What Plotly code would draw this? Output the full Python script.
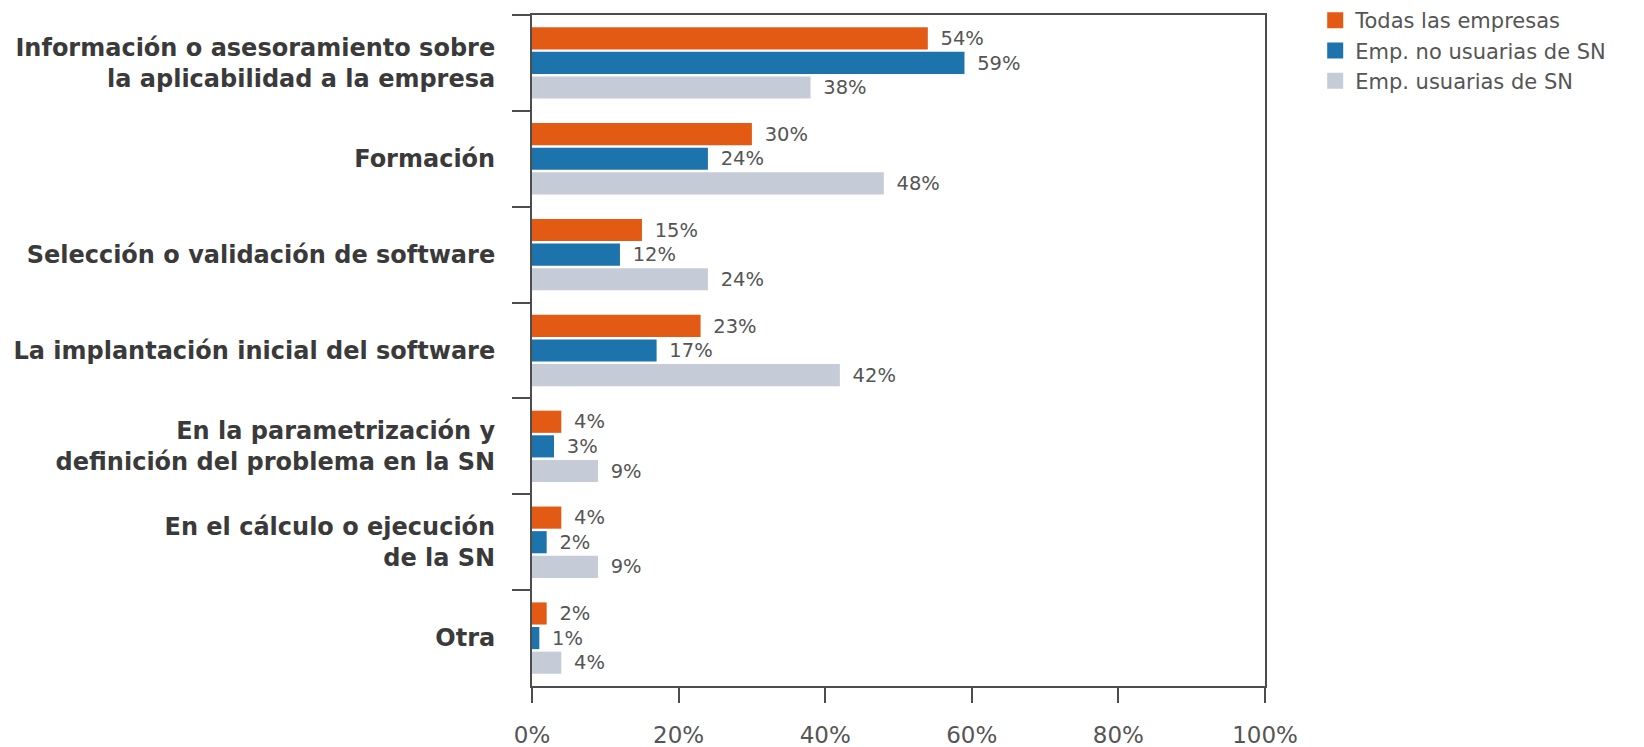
import plotly.graph_objects as go

# Categories (top to bottom) and the share of companies per group, in percent
categories = [
    "Información o asesoramiento sobre<br>la aplicabilidad a la empresa",
    "Formación",
    "Selección o validación de software",
    "La implantación inicial del software",
    "En la parametrización y<br>definición del problema en la SN",
    "En el cálculo o ejecución<br>de la SN",
    "Otra",
]
todas = [54, 30, 15, 23, 4, 4, 2]
no_usuarias = [59, 24, 12, 17, 3, 2, 1]
usuarias = [38, 48, 24, 42, 9, 9, 4]

series_names = ["Todas las empresas", "Emp. no usuarias de SN", "Emp. usuarias de SN"]
series_values = [todas, no_usuarias, usuarias]
series_colors = ["#E25A14", "#1D74AD", "#C5CCD8"]

x_ticks = [0, 20, 40, 60, 80, 100]
x_tick_labels = ["0%", "20%", "40%", "60%", "80%", "100%"]

FONT = "DejaVu Sans, Verdana, sans-serif"
AXIS_COLOR = "#4d4d4d"

fig = go.Figure()
for name, vals, color in zip(series_names, series_values, series_colors):
    fig.add_trace(go.Bar(
        y=categories,
        x=vals,
        name=name,
        orientation="h",
        marker=dict(color=color, line=dict(width=0)),
        text=[f"\u2002{v}%" for v in vals],
        textposition="outside",
        textfont=dict(family=FONT, size=22, color="#555555"),
        cliponaxis=False,
        showlegend=False,
    ))

# Legend entries with larger square swatches
for name, color in zip(series_names, series_colors):
    fig.add_trace(go.Scatter(
        x=[None], y=[None],
        mode="markers",
        name=name,
        marker=dict(symbol="square", size=18, color=color),
        showlegend=True,
    ))

fig.update_layout(
    width=1644,
    height=747,
    margin=dict(l=532, r=379, t=15, b=61),
    paper_bgcolor="white",
    plot_bgcolor="white",
    barmode="group",
    bargap=0.23,
    bargroupgap=0.1,
    showlegend=True,
    legend=dict(
        xref="container", yref="container",
        x=0.80, y=1.0, xanchor="left", yanchor="top",
        font=dict(family=FONT, size=21, color="#555555"),
        traceorder="normal",
        itemsizing="trace",
        bgcolor="rgba(0,0,0,0)",
    ),
    font=dict(family=FONT),
)

fig.update_xaxes(
    range=[0, 100],
    tickvals=x_ticks,
    ticktext=x_tick_labels,
    ticks="outside",
    ticklen=15,
    tickwidth=2,
    tickcolor=AXIS_COLOR,
    ticklabelstandoff=12,
    tickfont=dict(family=FONT, size=23, color="#555555"),
    showgrid=False,
    zeroline=False,
    showline=True,
    linecolor=AXIS_COLOR,
    linewidth=2,
    mirror=True,
    automargin=False,
)

fig.update_yaxes(
    autorange="reversed",
    tickson="boundaries",
    ticks="outside",
    ticklen=18,
    tickwidth=2,
    tickcolor=AXIS_COLOR,
    ticklabelstandoff=30,
    tickfont=dict(family=FONT, size=24, color="#3a3a3a", weight="bold"),
    showgrid=False,
    showline=True,
    linecolor=AXIS_COLOR,
    linewidth=2,
    mirror=True,
    automargin=False,
)

fig.write_html("out.html")
